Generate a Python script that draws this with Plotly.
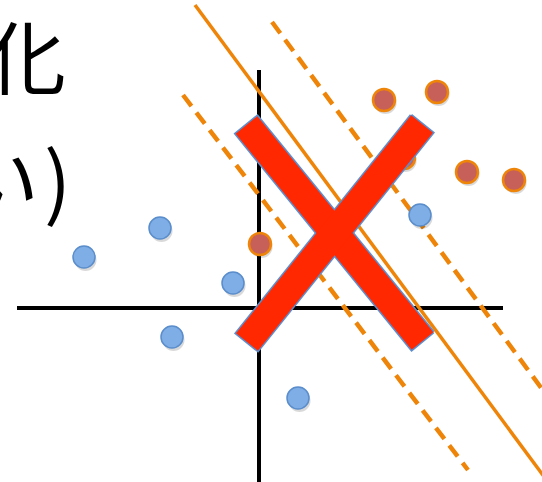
import numpy as np
import plotly.graph_objects as go

# --- data (chart units, origin at the axes cross) ---
blue_x = [-17.5, -9.9, -2.6, -8.7, 3.9, 16.1]
blue_y = [5.1, 8.0, 2.5, -2.9, -9.0, 9.3]
red_x = [12.5, 17.8, 20.8, 25.5, 0.1, 14.5]
red_y = [20.8, 21.6, 13.6, 12.8, 6.4, 15.0]

boundary_x = [-6.4, 28.9]
boundary_y = [30.3, -17.4]
margin_upper_x = [1.3, 28.3]
margin_upper_y = [28.6, -8.1]
margin_lower_x = [-7.6, 20.9]
margin_lower_y = [21.3, -16.2]

axis_h_x = [-24.2, 24.4]
axis_v_y = [23.8, -17.4]

cross_center = (7.55, 7.5)
cross_arm_a = (8.8, -10.8)
cross_arm_b = (8.75, 10.9)
cross_thickness = 2.8

title_line1 = "変化"
title_line2 = "ない\u200a)"

X_RANGE = [-25.9, 28.3]
Y_RANGE = [-17.4, 30.8]

ORANGE = "#EE8408"
fig = go.Figure()

# axes cross
fig.add_trace(go.Scatter(x=axis_h_x, y=[0, 0], mode="lines",
                         line=dict(color="black", width=4), hoverinfo="skip"))
fig.add_trace(go.Scatter(x=[0, 0], y=axis_v_y, mode="lines",
                         line=dict(color="black", width=4), hoverinfo="skip"))

# boundary + margins
fig.add_trace(go.Scatter(x=boundary_x, y=boundary_y, mode="lines",
                         line=dict(color=ORANGE, width=3.5), hoverinfo="skip"))
for xs, ys in [(margin_upper_x, margin_upper_y), (margin_lower_x, margin_lower_y)]:
    fig.add_trace(go.Scatter(x=xs, y=ys, mode="lines",
                             line=dict(color=ORANGE, width=4.5, dash="14px,8px"),
                             hoverinfo="skip"))

# shadows
fig.add_trace(go.Scatter(x=[v + 0.15 for v in blue_x + red_x],
                         y=[v - 0.3 for v in blue_y + red_y], mode="markers",
                         marker=dict(size=22, color="rgba(0,0,0,0.15)", line=dict(width=0)),
                         hoverinfo="skip"))
# points
fig.add_trace(go.Scatter(x=blue_x, y=blue_y, mode="markers",
                         marker=dict(size=22, color="#7FAEE6",
                                     line=dict(color="#5A8DCB", width=1.5))))
fig.add_trace(go.Scatter(x=red_x, y=red_y, mode="markers",
                         marker=dict(size=22, color="#C8605A",
                                     line=dict(color=ORANGE, width=2.5))))

# big X
def bar(center, arm, t):
    c = np.array(center); a = np.array(arm)
    n = np.array([-a[1], a[0]]) / np.hypot(*a) * t / 2
    pts = [c + a + n, c - a + n, c - a - n, c + a - n, c + a + n]
    return [p[0] for p in pts], [p[1] for p in pts]

for arm in (cross_arm_a, cross_arm_b):
    xs, ys = bar(cross_center, arm, cross_thickness)
    fig.add_trace(go.Scatter(x=xs, y=ys, mode="lines", fill="toself",
                             fillcolor="#FF2800", line=dict(color="#5B8FD0", width=3),
                             hoverinfo="skip"))
for arm in (cross_arm_a, cross_arm_b):
    xs, ys = bar(cross_center, arm, cross_thickness)
    fig.add_trace(go.Scatter(x=xs, y=ys, mode="lines", fill="toself",
                             fillcolor="#FF2800", line=dict(width=0),
                             hoverinfo="skip"))

fig.add_annotation(text=title_line1, xref="paper", yref="paper",
                   x=68 / 542, y=1 - 53 / 482, xanchor="right", yanchor="middle",
                   showarrow=False,
                   font=dict(family="Noto Sans CJK JP", size=80, color="black"))
fig.add_annotation(text=title_line2, xref="paper", yref="paper",
                   x=73 / 542, y=1 - 176 / 482, xanchor="right", yanchor="middle",
                   showarrow=False,
                   font=dict(family="Noto Sans CJK JP", size=80, color="black"))

fig.update_layout(width=542, height=482, margin=dict(l=0, r=0, t=0, b=0),
                  paper_bgcolor="white", plot_bgcolor="white", showlegend=False,
                  xaxis=dict(range=X_RANGE, visible=False, fixedrange=True),
                  yaxis=dict(range=Y_RANGE, visible=False, fixedrange=True))
fig.write_html("out.html", config={"displayModeBar": False},
               post_script="document.body.style.margin='0';document.body.style.padding='0';")
